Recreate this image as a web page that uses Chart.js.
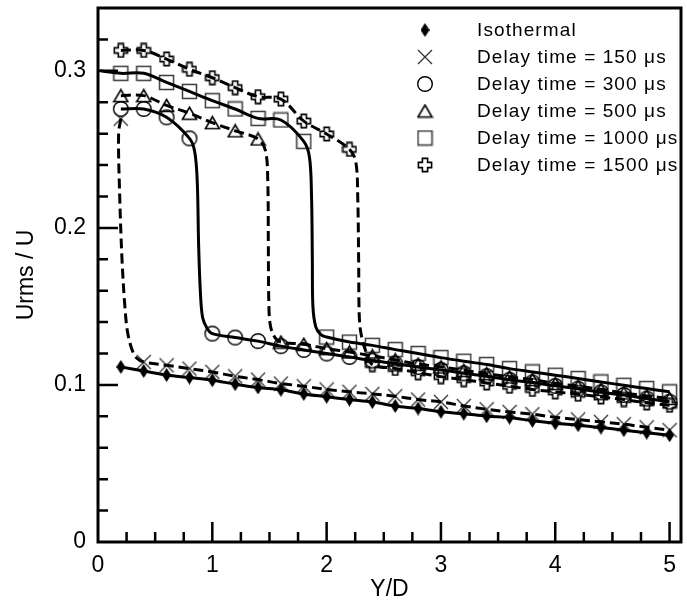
<!DOCTYPE html>
<html>
<head>
<meta charset="utf-8">
<script src="https://cdn.jsdelivr.net/npm/chart.js@4.4.1/dist/chart.umd.min.js"></script>
<style>
  html, body { margin: 0; padding: 0; background: #fff; }
</style>
</head>
<body>
<canvas id="chart" width="687" height="601"></canvas>
<script>
// ---- data ----
const xPos = [0.2, 0.4, 0.6, 0.8, 1.0, 1.2, 1.4, 1.6, 1.8, 2.0, 2.2, 2.4, 2.6,
  2.8, 3.0, 3.2, 3.4, 3.6, 3.8, 4.0, 4.2, 4.4, 4.6, 4.8, 5.0];

const labels = ["Isothermal", "Delay time = 150 \u03bcs", "Delay time = 300 \u03bcs",
  "Delay time = 500 \u03bcs", "Delay time = 1000 \u03bcs", "Delay time = 1500 \u03bcs"];

const yIso = [0.1115, 0.1089, 0.1063, 0.1047, 0.1030, 0.1005, 0.0984, 0.0969, 0.0943,
  0.0925, 0.0907, 0.0891, 0.0866, 0.0850, 0.0829, 0.0817, 0.0801, 0.0792, 0.0772,
  0.0756, 0.0744, 0.0729, 0.0712, 0.0696, 0.0680];
const y150 = [0.2695, 0.1146, 0.1125, 0.1104, 0.1083, 0.1055, 0.1034, 0.1009, 0.0992,
  0.0971, 0.0956, 0.0943, 0.0928, 0.0907, 0.0892, 0.0866, 0.0845, 0.0828, 0.0814,
  0.0794, 0.0780, 0.0765, 0.0750, 0.0730, 0.0712];
const y300 = [0.2757, 0.2757, 0.2704, 0.2570, 0.1327, 0.1302, 0.1279, 0.1247, 0.1223,
  0.1200, 0.1178, 0.1155, 0.1136, 0.1114, 0.1096, 0.1074, 0.1056, 0.1033, 0.1016,
  0.0994, 0.0976, 0.0953, 0.0936, 0.0913, 0.0893];
const y500 = [0.2842, 0.2842, 0.2780, 0.2730, 0.2670, 0.2618, 0.2566, 0.1273, 0.1259,
  0.1231, 0.1210, 0.1185, 0.1160, 0.1132, 0.1115, 0.1093, 0.1072, 0.1051, 0.1034,
  0.1009, 0.0992, 0.0971, 0.0949, 0.0930, 0.0914];
const y1000 = [0.2984, 0.2984, 0.2926, 0.2869, 0.2810, 0.2757, 0.2697, 0.2687, 0.2551,
  0.1305, 0.1273, 0.1252, 0.1225, 0.1200, 0.1174, 0.1151, 0.1130, 0.1104, 0.1083,
  0.1062, 0.1041, 0.1019, 0.0998, 0.0977, 0.0956];
const y1500 = [0.3130, 0.3130, 0.3075, 0.3010, 0.2956, 0.2893, 0.2835, 0.2820, 0.2680,
  0.2598, 0.2500, 0.1130, 0.1105, 0.1078, 0.1053, 0.1034, 0.1013, 0.0992, 0.0971,
  0.0956, 0.0941, 0.0924, 0.0907, 0.0886, 0.0871];

// extra points along the steep drops of the fitted curves (no markers there)
const drop150X = [0.18, 0.19, 0.21, 0.235, 0.26, 0.30, 0.34];
const drop150Y = [0.260, 0.220, 0.180, 0.150, 0.133, 0.122, 0.117];
const drop300X = [0.845, 0.868, 0.88, 0.895, 0.915, 0.955];
const drop300Y = [0.249, 0.230, 0.190, 0.160, 0.143, 0.136];
const drop500X = [1.465, 1.485, 1.49, 1.495, 1.51, 1.55];
const drop500Y = [0.249, 0.230, 0.190, 0.150, 0.137, 0.130];
const drop1000X = [1.85, 1.868, 1.875, 1.88, 1.905, 1.95];
const drop1000Y = [0.245, 0.220, 0.180, 0.150, 0.137, 0.132];
const drop1500X = [2.255, 2.272, 2.28, 2.285, 2.30, 2.34];
const drop1500Y = [0.242, 0.220, 0.180, 0.145, 0.133, 0.122];
const lead1000X = [0.02];
const lead1000Y = [0.300];

const xTicks = [0, 1, 2, 3, 4, 5];
const yTicks = [0, 0.1, 0.2, 0.3];

// ---- helpers ----
function pts(xs, ys) {
  return xs.map((x, i) => ({ x: x, y: ys[i] }));
}
function curve(ys, cut, bx, by, lx, ly) {
  const m = pts(xPos, ys);
  const lead = lx ? pts(lx, ly) : [];
  return lead.concat(m.slice(0, cut), pts(bx, by), m.slice(cut));
}
function marker(w, h, draw) {
  const c = document.createElement("canvas");
  c.width = w;
  c.height = h;
  draw(c.getContext("2d"), w, h);
  return c;
}

const mDiamond = marker(9, 14, (g, w, h) => {
  g.fillStyle = "#000";
  g.beginPath();
  g.moveTo(w / 2, 0); g.lineTo(w, h / 2); g.lineTo(w / 2, h); g.lineTo(0, h / 2);
  g.closePath();
  g.fill();
});
const mCross = marker(16, 16, (g, w, h) => {
  g.strokeStyle = "#333";
  g.lineWidth = 1.3;
  g.beginPath();
  g.moveTo(1, 1); g.lineTo(w - 1, h - 1);
  g.moveTo(w - 1, 1); g.lineTo(1, h - 1);
  g.stroke();
});
const mCircle = marker(18, 18, (g, w, h) => {
  g.strokeStyle = "#000";
  g.lineWidth = 1.4;
  g.beginPath();
  g.arc(w / 2, h / 2, 7.3, 0, Math.PI * 2);
  g.stroke();
});
const mTri = marker(17, 15, (g, w, h) => {
  g.strokeStyle = "#000";
  g.lineWidth = 1.6;
  g.beginPath();
  g.moveTo(w / 2, 1.5); g.lineTo(w - 1.5, h - 1.5); g.lineTo(1.5, h - 1.5);
  g.closePath();
  g.stroke();
});
const mSquare = marker(17, 17, (g, w, h) => {
  g.strokeStyle = "#3a3a3a";
  g.lineWidth = 1.5;
  g.strokeRect(1.5, 1.5, w - 3, h - 3);
});
const mPlus = marker(16, 16, (g, w, h) => {
  const c = w / 2, a = 2.6, r = 6.6;
  g.strokeStyle = "#000";
  g.lineWidth = 1.6;
  g.beginPath();
  g.moveTo(c - a, c - r); g.lineTo(c + a, c - r); g.lineTo(c + a, c - a);
  g.lineTo(c + r, c - a); g.lineTo(c + r, c + a); g.lineTo(c + a, c + a);
  g.lineTo(c + a, c + r); g.lineTo(c - a, c + r); g.lineTo(c - a, c + a);
  g.lineTo(c - r, c + a); g.lineTo(c - r, c - a); g.lineTo(c - a, c - a);
  g.closePath();
  g.stroke();
});
const symbols = [mDiamond, mCross, mCircle, mTri, mSquare, mPlus];

function lineSet(data, dashed) {
  return {
    data: data,
    borderColor: "#000",
    borderWidth: 3,
    borderDash: dashed ? [10, 5] : [],
    pointRadius: 0,
    tension: 0.35,
    fill: false
  };
}
function markSet(ys, sym) {
  return {
    data: pts(xPos, ys),
    showLine: false,
    pointStyle: sym,
    pointRadius: 5,
    pointHoverRadius: 5
  };
}

// ---- frame, inward ticks and inside legend ----
const framePlugin = {
  id: "frame",
  afterDatasetsDraw(chart) {
    const ctx = chart.ctx;
    const a = chart.chartArea;
    const xs = chart.scales.x, ys = chart.scales.y;
    ctx.save();
    ctx.strokeStyle = "#000";
    ctx.lineWidth = 2.5;
    ctx.beginPath();
    for (let i = 1; i <= 20; i++) {
      const px = xs.getPixelForValue(i * 0.25);
      const len = i % 4 === 0 ? 20 : 10;
      ctx.moveTo(px, a.bottom); ctx.lineTo(px, a.bottom - len);
    }
    for (let i = 1; i <= 16; i++) {
      const py = ys.getPixelForValue(i * 0.02);
      const len = i % 5 === 0 ? 20 : 10;
      ctx.moveTo(a.left, py); ctx.lineTo(a.left + len, py);
    }
    ctx.stroke();
    ctx.lineWidth = 3;
    ctx.strokeRect(a.left, a.top, a.right - a.left, a.bottom - a.top);
    ctx.restore();
  },
  afterDraw(chart) {
    const ctx = chart.ctx;
    ctx.save();
    ctx.fillStyle = "#000";
    ctx.font = '19px "Liberation Sans", Arial, sans-serif';
    ctx.textBaseline = "middle";
    if ("letterSpacing" in ctx) ctx.letterSpacing = "1.1px";
    labels.forEach((t, i) => {
      const y = 30 + i * 27;
      const s = symbols[i];
      ctx.drawImage(s, 425 - s.width / 2, y - s.height / 2);
      ctx.fillText(t, 477, y + 1);
    });
    ctx.restore();
  }
};

const font = { family: '"Liberation Sans", Arial, sans-serif', size: 23 };

new Chart(document.getElementById("chart"), {
  type: "line",
  data: {
    datasets: [
      lineSet(pts(xPos, yIso), false),
      lineSet(curve(y150, 1, drop150X, drop150Y), true),
      lineSet(curve(y300, 4, drop300X, drop300Y), false),
      lineSet(curve(y500, 7, drop500X, drop500Y), true),
      lineSet(curve(y1000, 9, drop1000X, drop1000Y, lead1000X, lead1000Y), false),
      lineSet(curve(y1500, 11, drop1500X, drop1500Y), true),
      markSet(yIso, mDiamond),
      markSet(y150, mCross),
      markSet(y300, mCircle),
      markSet(y500, mTri),
      markSet(y1000, mSquare),
      markSet(y1500, mPlus)
    ]
  },
  options: {
    responsive: false,
    animation: false,
    layout: { padding: { left: 0, right: 3, top: 8, bottom: 0 } },
    plugins: { legend: { display: false }, tooltip: { enabled: false } },
    scales: {
      x: {
        type: "linear",
        min: 0,
        max: 5.1,
        afterFit: (s) => { s.height = 59; s.paddingLeft = 0; s.paddingRight = 0; },
        afterBuildTicks: (s) => { s.ticks = xTicks.map((v) => ({ value: v })); },
        grid: { display: false, drawTicks: false },
        border: { display: false },
        ticks: { color: "#000", font: font, padding: 10, maxRotation: 0,
          callback: (v) => String(v) },
        title: { display: true, text: "Y/D", color: "#000",
          font: { family: font.family, size: 23, lineHeight: 1 }, padding: 0 }
      },
      y: {
        type: "linear",
        min: 0,
        max: 0.34,
        afterFit: (s) => { s.width = 98; s.paddingTop = 0; s.paddingBottom = 0; },
        afterBuildTicks: (s) => { s.ticks = yTicks.map((v) => ({ value: v })); },
        grid: { display: false, drawTicks: false },
        border: { display: false },
        ticks: { color: "#000", font: font, padding: 12,
          callback: (v) => (v === 0 ? "0" : v.toFixed(1)) },
        title: { display: true, text: "Urms / U", color: "#000",
          font: { family: font.family, size: 23 }, padding: { top: 13, bottom: 0 } }
      }
    }
  },
  plugins: [framePlugin]
});
</script>
</body>
</html>
